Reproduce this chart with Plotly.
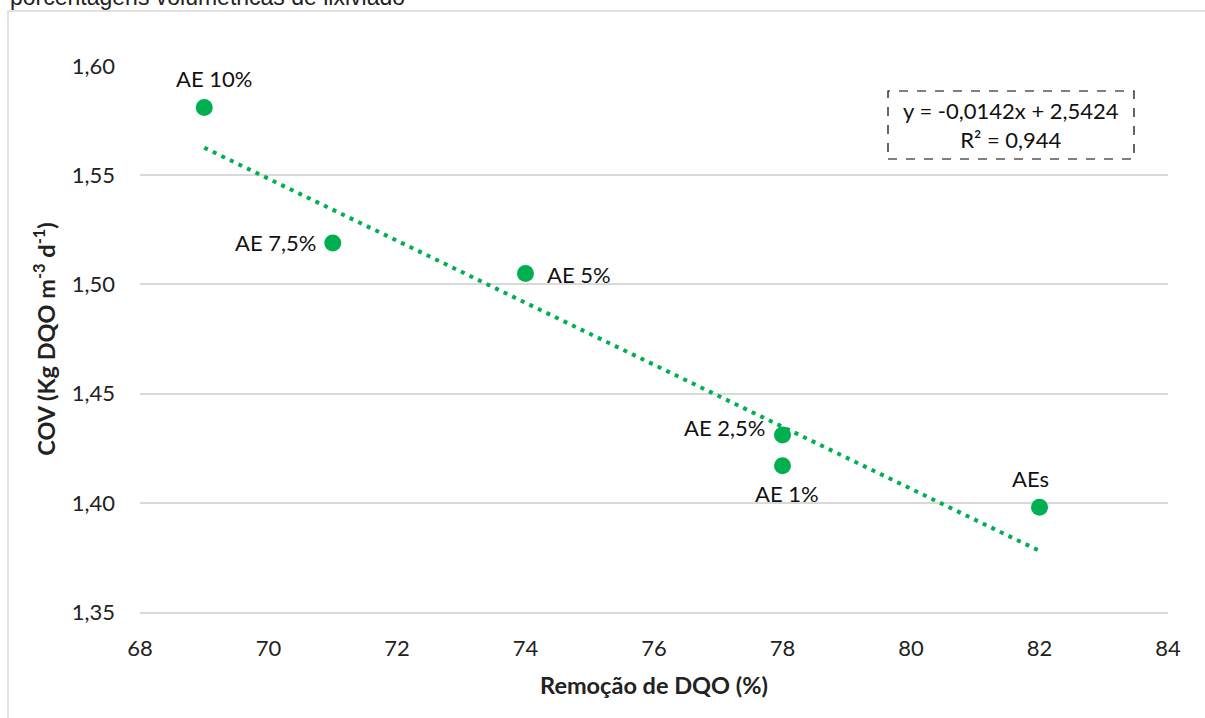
import plotly.graph_objects as go

labels = ["AE 10%", "AE 7,5%", "AE 5%", "AE 2,5%", "AE 1%", "AEs"]
remocao = [69, 71, 74, 78, 78, 82]
cov = [1.581, 1.519, 1.505, 1.431, 1.417, 1.398]

slope = -0.0142
intercept = 2.5424
r2 = 0.944

# label placement style (anchor, pixel offsets)
label_anchor = ["center", "right", "left", "right", "center", "center"]
label_dx = [10, -15, 19, -16, 4, -9]
label_dy = [29, 0, -1, 8, -28, 29]

trend_x = [min(remocao), max(remocao)]
trend_y = [slope * x + intercept for x in trend_x]

green = "#00B050"
font_main = "Lato"

fig = go.Figure()
fig.add_trace(go.Scatter(
    x=trend_x, y=trend_y, mode="lines",
    line=dict(color=green, width=4, dash="4px,5.5px"),
    hoverinfo="skip", showlegend=False))
fig.add_trace(go.Scatter(
    x=remocao, y=cov, mode="markers",
    marker=dict(color=green, size=17),
    showlegend=False))

for lab, x, y, anc, dx, dy in zip(labels, remocao, cov, label_anchor, label_dx, label_dy):
    fig.add_annotation(x=x, y=y, text=lab, showarrow=False,
                       xanchor=anc, yanchor="middle", xshift=dx, yshift=dy,
                       font=dict(family=font_main, size=22, color="#111111"))

fig.update_layout(
    width=1205, height=718,
    margin=dict(l=140, r=37, t=66, b=106),
    plot_bgcolor="white", paper_bgcolor="white",
    separators=", ",
    font=dict(family=font_main, size=22, color="#222222"),
    xaxis=dict(range=[68, 84], dtick=2, showgrid=False, zeroline=False,
               showline=True, linecolor="#D9D9D9", linewidth=1.5, ticks="",
               tickfont=dict(size=22), ticklabelstandoff=16,
               title=dict(text="<b>Remoção de DQO (%)</b>", font=dict(size=23.5), standoff=17)),
    yaxis=dict(range=[1.35, 1.60], dtick=0.05, tickformat=".2f", showgrid=True,
               gridcolor="#D9D9D9", gridwidth=1.5, zeroline=False, showline=False, ticks="",
               tickfont=dict(size=22), ticklabelstandoff=24,
               title=dict(text="<b>COV (Kg DQO m<sup>-3</sup> d<sup>-1</sup>)</b>", font=dict(size=23.5), standoff=9)),
)

# outer chart border
fig.add_shape(type="rect", xref="paper", yref="paper",
              x0=-0.1284, x1=1.05, y0=-0.25, y1=1.1007,
              line=dict(color="#D9D9D9", width=1.5), layer="below")

# equation box
fig.add_shape(type="rect", xref="paper", yref="paper",
              x0=(888 - 140) / 1028, x1=(1134 - 140) / 1028,
              y0=(612 - 159) / 546, y1=(612 - 91) / 546,
              line=dict(color="#000000", width=1.2, dash="dash"))
fig.add_annotation(xref="paper", yref="paper",
                   x=(1011 - 140) / 1028, y=(612 - 125) / 546,
                   text=f"y = {str(slope).replace('.', ',')}x + {str(intercept).replace('.', ',')}<br>R² = {str(r2).replace('.', ',')}",
                   showarrow=False, font=dict(family=font_main, size=22, color="#111111"),
                   align="center", xanchor="center", yanchor="middle")

# cut-off title at top
fig.add_annotation(xref="paper", yref="paper",
                   x=(8 - 140) / 1028, y=(612 - 12) / 546,
                   text="porcentagens volumétricas de lixiviado",
                   showarrow=False, xanchor="left", yanchor="bottom",
                   font=dict(family="Liberation Sans", size=23, color="#222222"))

fig.write_html("out.html")
